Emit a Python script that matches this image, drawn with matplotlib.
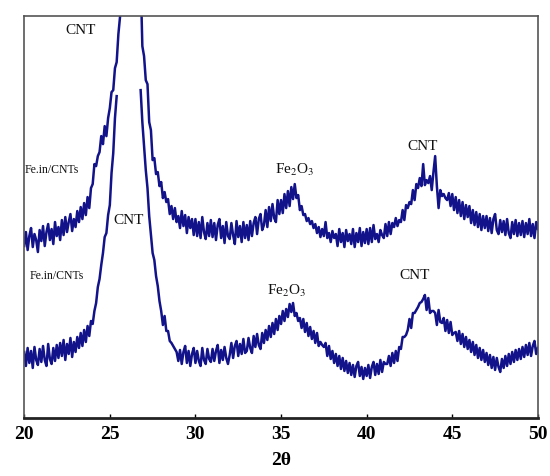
import numpy as np
import matplotlib
matplotlib.use("Agg")
import matplotlib.pyplot as plt

plt.rcParams['font.family'] = ['Liberation Serif', 'DejaVu Serif']
plt.rcParams['mathtext.fontset'] = 'stix'

# 2-theta grid, 0.1 degree steps from 20 to 50
two_theta = np.round(np.arange(20.0, 50.05, 0.1), 1)

# upper pattern (Fe.in/CNTs, offset)
upper = [
    172, 186, 168, 182, 190, 171, 184, 178, 166, 188,
    177, 192, 172, 186, 194, 178, 189, 174, 196, 182,
    191, 178, 198, 183, 201, 186, 196, 204, 187, 199,
    191, 207, 196, 211, 199, 215, 203, 221, 210, 230,
    234, 254, 252, 262, 266, 282, 274, 292, 282, 300,
    310, 326, 328, 350, 356, 384, 402, 440, 500, 560,
    620, 680, 720, 740, 720, 680, 620, 540, 440, 372,
    362, 338, 334, 296, 288, 258, 260, 244, 246, 232,
    236, 220, 226, 216, 219, 204, 212, 199, 210, 196,
    202, 190, 207, 192, 203, 185, 201, 190, 199, 183,
    199, 182, 196, 180, 201, 186, 179, 195, 182, 198,
    181, 195, 178, 193, 199, 180, 192, 175, 196, 182,
    179, 195, 183, 174, 197, 181, 192, 176, 196, 180,
    193, 178, 197, 182, 195, 201, 184, 199, 204, 188,
    193, 208, 191, 211, 197, 214, 200, 196, 218, 204,
    218, 205, 224, 210, 227, 212, 231, 219, 234, 220,
    223, 208, 212, 203, 204, 197, 200, 194, 197, 190,
    194, 185, 191, 181, 189, 182, 196, 180, 185, 176,
    187, 180, 184, 172, 189, 176, 185, 171, 188, 177,
    184, 174, 189, 171, 185, 176, 190, 172, 186, 175,
    189, 174, 190, 176, 193, 179, 184, 176, 188, 183,
    180, 194, 182, 196, 184, 195, 191, 200, 192, 198,
    196, 208, 198, 213, 210, 216, 214, 228, 218, 234,
    230, 240, 232, 254, 233, 238, 235, 242, 228, 246,
    262, 232, 210, 228, 222, 224, 220, 218, 225, 212,
    224, 208, 221, 205, 218, 202, 216, 199, 213, 201,
    212, 195, 208, 193, 206, 191, 204, 188, 202, 190,
    202, 187, 200, 185, 199, 204, 188, 184, 198, 186,
    197, 183, 199, 185, 180, 196, 184, 198, 182, 195,
    183, 197, 181, 195, 184, 199, 182, 194, 180, 196,
    189,
]

# lower pattern (Fe.in/CNTs), top of the main peak is cut off in the original
nan = np.nan
lower = [
    66, 52, 70, 55, 67, 50, 71, 58, 53, 69,
    56, 72, 58, 52, 74, 59, 54, 70, 57, 73,
    60, 75, 62, 78, 58, 74, 64, 80, 61, 76,
    66, 81, 70, 85, 72, 88, 76, 92, 82, 97,
    94, 107, 115, 131, 139, 153, 165, 181, 185, 203,
    213, 245, 265, 300, 322, nan, nan, nan, nan, nan,
    nan, nan, nan, nan, nan, nan, nan, nan, 328, 296,
    272, 248, 230, 202, 184, 165, 158, 142, 132, 117,
    107, 93, 102, 87, 87, 77, 75, 72, 69, 66,
    57, 68, 54, 66, 72, 55, 67, 52, 64, 70,
    55, 67, 57, 52, 70, 58, 54, 69, 59, 56,
    69, 57, 67, 73, 55, 68, 58, 71, 60, 54,
    63, 75, 60, 72, 77, 62, 74, 64, 79, 65,
    67, 80, 70, 65, 82, 71, 84, 73, 69, 85,
    75, 88, 78, 92, 81, 95, 84, 99, 88, 102,
    94, 107, 97, 109, 101, 114, 106, 115, 102, 105,
    97, 100, 90, 99, 86, 95, 82, 91, 79, 87,
    75, 85, 72, 76, 73, 71, 75, 62, 72, 59,
    67, 55, 64, 52, 62, 49, 60, 47, 57, 45,
    55, 43, 53, 41, 52, 56, 42, 51, 39, 50,
    42, 53, 40, 51, 56, 43, 54, 44, 58, 46,
    56, 54, 54, 62, 52, 65, 55, 67, 57, 71,
    69, 81, 81, 83, 88, 99, 90, 105, 105, 108,
    111, 115, 116, 119, 123, 108, 120, 105, 107, 107,
    105, 93, 108, 96, 95, 100, 87, 98, 85, 96,
    83, 85, 86, 77, 87, 74, 84, 71, 81, 69,
    78, 66, 76, 63, 73, 60, 70, 58, 68, 56,
    65, 53, 63, 50, 61, 48, 60, 51, 46, 59,
    50, 62, 52, 64, 54, 66, 56, 68, 58, 69,
    59, 71, 61, 73, 63, 75, 62, 72, 77, 64,
    70,
]

# peak labels: (text, x, y, fontsize)
labels = [
    ("CNT", 23.3, 388, 11),
    ("Fe.in/CNTs", 20.05, 248, 8.5),
    ("CNT", 26.1, 198, 11),
    ("Fe.in/CNTs", 20.3, 142, 8.5),
    ("Fe$_2$O$_3$", 35.8, 248, 11),
    ("Fe$_2$O$_3$", 35.35, 127, 11),
    ("CNT", 43.25, 272, 11),
    ("CNT", 42.8, 143, 11),
]

fig = plt.figure(figsize=(5.5, 4.76), dpi=100)
ax = fig.add_axes([0.044, 0.122, 0.934, 0.844])

color = '#12128a'
ax.plot(two_theta, upper, color=color, lw=1.8)
ax.plot(two_theta, lower, color=color, lw=1.8)

for text, x, y, fs in labels:
    ha = 'left' if text.startswith('Fe.in') else 'center'
    ax.text(x, y, text, fontsize=fs, ha=ha, va='center', color='#111111')

ax.set_xlim(20, 50)
ax.set_ylim(0, 402)
ax.set_xticks([20, 25, 30, 35, 40, 45, 50])
ax.set_yticks([])
ax.tick_params(axis='x', direction='in', length=3, width=1, pad=6)
for lab in ax.get_xticklabels():
    lab.set_fontweight('bold')
    lab.set_fontsize(14)
ax.set_xlabel('2θ', fontsize=14, fontweight='bold', labelpad=6)

for side in ['left', 'right', 'top']:
    ax.spines[side].set_color('#555555')
    ax.spines[side].set_linewidth(1.2)
ax.spines['bottom'].set_color('#222222')
ax.spines['bottom'].set_linewidth(2)

fig.savefig('out.png', dpi=100)
